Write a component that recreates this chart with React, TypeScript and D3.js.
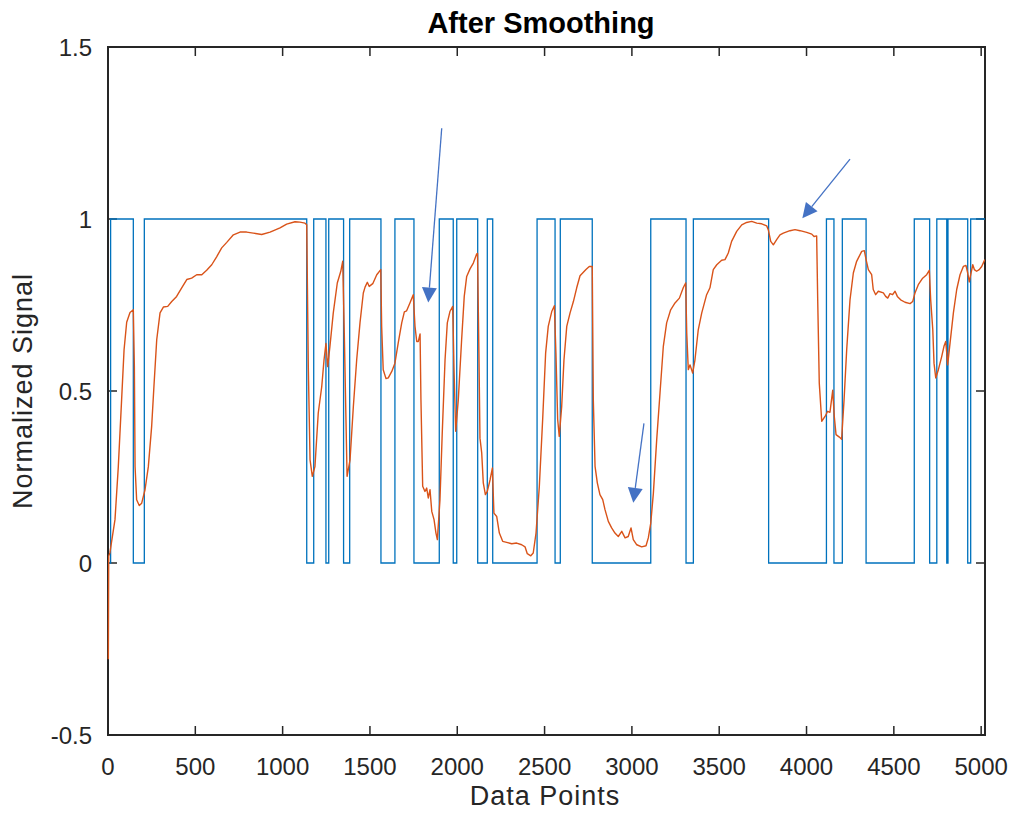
import React from "react";
import * as d3 from "d3";

// Axis limits and ticks
const X_LIMITS: [number, number] = [0, 5022];
const Y_LIMITS: [number, number] = [-0.5, 1.5];
const X_TICKS = [0, 500, 1000, 1500, 2000, 2500, 3000, 3500, 4000, 4500, 5000];
const Y_TICKS = [-0.5, 0, 0.5, 1, 1.5];

// Binary state: starts at 0 and flips at each of these sample indices
const INITIAL_STATE = 0;
const stateFlips = [
  15, 145, 208, 1138, 1178, 1248, 1264, 1349, 1384, 1563, 1643, 1752, 1897, 1977,
  1997, 2117, 2172, 2203, 2457, 2560, 2590, 2773, 3108, 3310, 3352, 3783, 4114,
  4157, 4205, 4341, 4617, 4705, 4746, 4803, 4810, 4923, 4940,
];

// Smoothed normalized signal [sample index, value]
const smoothedSignal: [number, number][] = [
  [2, -0.28], [4, 0.02], [11, 0.03], [40, 0.126], [59, 0.28], [78, 0.475], [92, 0.62],
  [107, 0.7], [126, 0.728], [145, 0.736], [151, 0.57], [155, 0.28], [164, 0.184],
  [179, 0.167], [193, 0.174], [212, 0.213], [231, 0.28], [250, 0.397], [263, 0.513],
  [279, 0.649], [298, 0.727], [317, 0.744], [342, 0.746], [365, 0.76], [393, 0.775],
  [422, 0.8], [451, 0.824], [479, 0.828], [508, 0.838], [537, 0.838], [565, 0.851],
  [594, 0.867], [622, 0.89], [651, 0.916], [680, 0.932], [718, 0.954], [756, 0.962],
  [794, 0.962], [832, 0.959], [880, 0.955], [928, 0.962], [985, 0.974], [1023, 0.985],
  [1071, 0.992], [1099, 0.991], [1128, 0.988], [1138, 0.983], [1147, 0.57], [1157, 0.3],
  [1170, 0.252], [1185, 0.28], [1204, 0.436], [1224, 0.513], [1237, 0.59], [1248, 0.638],
  [1258, 0.571], [1271, 0.63], [1290, 0.727], [1313, 0.814], [1333, 0.848], [1344, 0.877],
  [1353, 0.669], [1369, 0.252], [1386, 0.3], [1405, 0.455], [1424, 0.59], [1443, 0.698],
  [1462, 0.785], [1472, 0.802], [1485, 0.816], [1496, 0.804], [1516, 0.812], [1539, 0.838],
  [1562, 0.853], [1567, 0.688], [1576, 0.562], [1592, 0.536], [1605, 0.538], [1625, 0.557],
  [1643, 0.581], [1662, 0.64], [1682, 0.698], [1697, 0.73], [1710, 0.733], [1729, 0.756],
  [1748, 0.78], [1758, 0.688], [1768, 0.644], [1777, 0.644], [1787, 0.666], [1792, 0.475],
  [1802, 0.223], [1815, 0.208], [1825, 0.218], [1834, 0.189], [1844, 0.213], [1854, 0.15],
  [1867, 0.126], [1878, 0.087], [1886, 0.068], [1901, 0.184], [1914, 0.378], [1930, 0.59],
  [1943, 0.698], [1958, 0.731], [1974, 0.746], [1981, 0.571], [1991, 0.383], [2006, 0.475],
  [2025, 0.649], [2040, 0.775], [2054, 0.833], [2073, 0.855], [2092, 0.872], [2111, 0.898],
  [2116, 0.9], [2124, 0.61], [2130, 0.363], [2140, 0.32], [2149, 0.233], [2161, 0.199],
  [2172, 0.208], [2188, 0.242], [2201, 0.276], [2210, 0.145], [2226, 0.135], [2241, 0.087],
  [2260, 0.063], [2283, 0.06], [2312, 0.056], [2340, 0.058], [2369, 0.053], [2388, 0.047],
  [2401, 0.027], [2421, 0.021], [2435, 0.029], [2451, 0.087], [2470, 0.223], [2489, 0.417],
  [2506, 0.61], [2521, 0.688], [2541, 0.731], [2556, 0.748], [2565, 0.61], [2575, 0.417],
  [2584, 0.368], [2598, 0.455], [2611, 0.59], [2627, 0.688], [2646, 0.727], [2665, 0.76],
  [2684, 0.8], [2703, 0.835], [2718, 0.843], [2737, 0.853], [2756, 0.862], [2773, 0.862],
  [2779, 0.475], [2789, 0.281], [2802, 0.233], [2817, 0.199], [2833, 0.184], [2846, 0.155],
  [2865, 0.121], [2884, 0.102], [2903, 0.087], [2922, 0.077], [2942, 0.092], [2961, 0.073],
  [2979, 0.077], [2995, 0.102], [3008, 0.068], [3028, 0.053], [3056, 0.047], [3081, 0.05],
  [3094, 0.073], [3108, 0.116], [3123, 0.203], [3142, 0.358], [3161, 0.494], [3180, 0.63],
  [3199, 0.698], [3222, 0.736], [3247, 0.756], [3272, 0.77], [3294, 0.8], [3308, 0.814],
  [3314, 0.669], [3323, 0.562], [3333, 0.576], [3348, 0.552], [3361, 0.59], [3380, 0.678],
  [3400, 0.727], [3428, 0.78], [3447, 0.8], [3466, 0.853], [3486, 0.867], [3514, 0.88],
  [3533, 0.882], [3552, 0.901], [3571, 0.935], [3600, 0.964], [3629, 0.983], [3657, 0.99],
  [3686, 0.993], [3715, 0.988], [3743, 0.986], [3772, 0.98], [3781, 0.969], [3795, 0.935],
  [3810, 0.925], [3829, 0.94], [3848, 0.954], [3867, 0.959], [3905, 0.966], [3934, 0.969],
  [3963, 0.966], [4001, 0.961], [4030, 0.956], [4043, 0.949], [4058, 0.951], [4064, 0.765],
  [4073, 0.523], [4087, 0.412], [4106, 0.426], [4121, 0.441], [4134, 0.438], [4150, 0.502],
  [4159, 0.426], [4169, 0.373], [4188, 0.366], [4201, 0.36], [4215, 0.475], [4230, 0.62],
  [4249, 0.765], [4268, 0.843], [4287, 0.877], [4297, 0.887], [4316, 0.906], [4331, 0.908],
  [4341, 0.882], [4354, 0.853], [4373, 0.838], [4382, 0.795], [4396, 0.78], [4411, 0.79],
  [4440, 0.785], [4453, 0.775], [4465, 0.77], [4478, 0.783], [4493, 0.78], [4507, 0.79],
  [4520, 0.775], [4539, 0.765], [4564, 0.758], [4593, 0.754], [4608, 0.76], [4621, 0.785],
  [4640, 0.809], [4665, 0.828], [4688, 0.838], [4703, 0.851], [4711, 0.765], [4723, 0.678],
  [4730, 0.581], [4740, 0.538], [4755, 0.562], [4774, 0.6], [4787, 0.63], [4797, 0.644],
  [4803, 0.61], [4808, 0.576], [4822, 0.64], [4841, 0.727], [4860, 0.795], [4879, 0.838],
  [4898, 0.862], [4913, 0.865], [4923, 0.843], [4932, 0.817], [4942, 0.843], [4952, 0.867],
  [4961, 0.853], [4974, 0.848], [4989, 0.853], [5003, 0.862], [5021, 0.882],
];

// Annotation arrows: [fromX, fromY, toX, toY] in data units
const annotationArrows: [number, number, number, number][] = [
  [1911, 1.264, 1834, 0.757],
  [3069, 0.406, 3008, 0.175],
  [4249, 1.174, 3976, 1.002],
];

const WIDTH = 1015;
const HEIGHT = 821;
const PLOT = { left: 108, right: 985, top: 47, bottom: 735 };
const AXIS_COLOR = "#262626";
const FONT = "'Liberation Sans', Arial, Helvetica, sans-serif";
const TICK_LEN = 9;

export default function App() {
  const x = d3.scaleLinear().domain(X_LIMITS).range([PLOT.left, PLOT.right]);
  const y = d3.scaleLinear().domain(Y_LIMITS).range([PLOT.bottom, PLOT.top]);

  // Build the step series from the flip indices
  const stepPoints: [number, number][] = [[X_LIMITS[0], INITIAL_STATE]];
  let state = INITIAL_STATE;
  for (const idx of stateFlips) {
    state = 1 - state;
    stepPoints.push([idx, state]);
  }
  stepPoints.push([X_LIMITS[1], state]);

  const stepLine = d3
    .line<[number, number]>()
    .x((d) => x(d[0]))
    .y((d) => y(d[1]))
    .curve(d3.curveStepAfter);

  const signalLine = d3
    .line<[number, number]>()
    .x((d) => x(d[0]))
    .y((d) => y(d[1]));

  const arrowColor = "#4472C4";
  const headLen = 15;
  const headHalf = 7.5;

  return (
    <svg
      width={WIDTH}
      height={HEIGHT}
      style={{ position: "absolute", left: 0, top: 0, background: "#fff" }}
      fontFamily={FONT}
    >
      <rect x={0} y={0} width={WIDTH} height={HEIGHT} fill="#fff" />

      <defs>
        <clipPath id="plot-clip">
          <rect
            x={PLOT.left - 1}
            y={PLOT.top}
            width={PLOT.right - PLOT.left + 1}
            height={PLOT.bottom - PLOT.top}
          />
        </clipPath>
      </defs>

      {/* axes box (drawn beneath the data) */}
      <rect
        x={PLOT.left}
        y={PLOT.top}
        width={PLOT.right - PLOT.left}
        height={PLOT.bottom - PLOT.top}
        fill="none"
        stroke={AXIS_COLOR}
        strokeWidth={2}
      />

      {/* x ticks */}
      {X_TICKS.map((t) => (
        <g key={`xt${t}`}>
          <line x1={x(t)} x2={x(t)} y1={PLOT.bottom} y2={PLOT.bottom - TICK_LEN} stroke={AXIS_COLOR} strokeWidth={1.5} />
          <line x1={x(t)} x2={x(t)} y1={PLOT.top} y2={PLOT.top + TICK_LEN} stroke={AXIS_COLOR} strokeWidth={1.5} />
          <text x={x(t)} y={775} textAnchor="middle" fontSize={24} fill={AXIS_COLOR}>
            {t}
          </text>
        </g>
      ))}

      {/* y ticks */}
      {Y_TICKS.map((t) => (
        <g key={`yt${t}`}>
          <line x1={PLOT.left} x2={PLOT.left + TICK_LEN} y1={y(t)} y2={y(t)} stroke={AXIS_COLOR} strokeWidth={1.5} />
          <line x1={PLOT.right} x2={PLOT.right - TICK_LEN} y1={y(t)} y2={y(t)} stroke={AXIS_COLOR} strokeWidth={1.5} />
          <text x={PLOT.left - 16} y={y(t) + 8.5} textAnchor="end" fontSize={24} fill={AXIS_COLOR}>
            {t}
          </text>
        </g>
      ))}

      <g clipPath="url(#plot-clip)">
        <path d={stepLine(stepPoints) || ""} fill="none" stroke="#0072BD" strokeWidth={1.3} />
        <path
          d={signalLine(smoothedSignal) || ""}
          fill="none"
          stroke="#D95319"
          strokeWidth={1.4}
          strokeLinejoin="round"
        />
      </g>

      {/* annotation arrows */}
      {annotationArrows.map(([x0, y0, x1, y1], i) => {
        const sx = x(x0);
        const sy = y(y0);
        const tx = x(x1);
        const ty = y(y1);
        const dx = tx - sx;
        const dy = ty - sy;
        const len = Math.hypot(dx, dy);
        const ux = dx / len;
        const uy = dy / len;
        const bx = tx - ux * headLen;
        const by = ty - uy * headLen;
        const px = -uy * headHalf;
        const py = ux * headHalf;
        return (
          <g key={i}>
            <line x1={sx} y1={sy} x2={bx} y2={by} stroke={arrowColor} strokeWidth={1.3} />
            <polygon
              points={`${tx},${ty} ${bx + px},${by + py} ${bx - px},${by - py}`}
              fill={arrowColor}
            />
          </g>
        );
      })}

      {/* labels */}
      <text x={545} y={805} textAnchor="middle" fontSize={27} letterSpacing={1} fill={AXIS_COLOR}>
        Data Points
      </text>
      <text
        transform={`translate(32, 391) rotate(-90)`}
        textAnchor="middle"
        fontSize={27}
        letterSpacing={1}
        fill={AXIS_COLOR}
      >
        Normalized Signal
      </text>
      <text x={541} y={33} textAnchor="middle" fontSize={29} fontWeight="bold" fill="#000">
        After Smoothing
      </text>
    </svg>
  );
}
